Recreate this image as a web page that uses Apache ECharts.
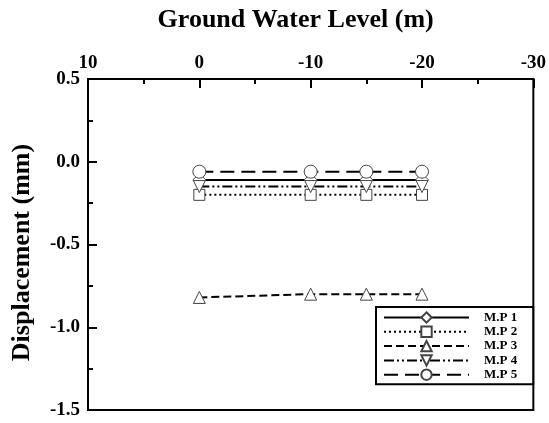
<!DOCTYPE html>
<html>
<head>
<meta charset="utf-8">
<script src="https://cdn.jsdelivr.net/npm/echarts@6/dist/echarts.min.js"></script>
<style>html,body{margin:0;padding:0;background:#fff}#c{width:549px;height:423px}</style>
</head>
<body>
<div id="c"></div>
<script>
const groundWaterLevel = [0, -10, -15, -20];
const mp1 = [-0.11, -0.11, -0.11, -0.11];
const mp2 = [-0.20, -0.20, -0.20, -0.20];
const mp3 = [-0.82, -0.80, -0.80, -0.80];
const mp4 = [-0.15, -0.15, -0.15, -0.15];
const mp5 = [-0.06, -0.06, -0.06, -0.06];
const seriesNames = ['M.P 1', 'M.P 2', 'M.P 3', 'M.P 4', 'M.P 5'];
const xTicks = [10, 0, -10, -20, -30];
const yTicks = [0.5, 0.0, -0.5, -1.0, -1.5];

const font = 'Liberation Serif';
const downTri = 'path://M0,0 L10,0 L5,10 Z';
const cfg = [
  {data: mp1, symbol: 'diamond', size: 13, dash: 'solid'},
  {data: mp2, symbol: 'rect', size: 11, dash: [2, 3]},
  {data: mp3, symbol: 'triangle', size: 12, dash: [8, 4]},
  {data: mp4, symbol: downTri, size: 12, dash: [10, 3, 2, 3, 2, 3]},
  {data: mp5, symbol: 'circle', size: 13, dash: [14, 7]}
];

const chart = echarts.init(document.getElementById('c'));
chart.setOption({
  animation: false,
  grid: {left: 88, right: 14, top: 79, bottom: 13, show: true, borderColor: '#000', borderWidth: 2, backgroundColor: 'transparent'},
  xAxis: {
    type: 'value', position: 'top', inverse: true, min: -30, max: 10, interval: 10,
    name: 'Ground Water Level (m)', nameLocation: 'middle', nameGap: 46,
    nameTextStyle: {fontFamily: font, fontWeight: 'bold', fontSize: 26, color: '#000', padding: [0, 30, 0, 0]},
    axisLine: {show: true, onZero: false, lineStyle: {color: '#000', width: 2}},
    axisTick: {show: true, inside: true, length: 9, lineStyle: {color: '#000', width: 2}},
    minorTick: {show: true, splitNumber: 2, length: 5, lineStyle: {color: '#000', width: 2}},
    splitLine: {show: false},
    axisLabel: {fontFamily: font, fontWeight: 'bold', fontSize: 19, color: '#000', margin: 6,
      formatter: v => xTicks.includes(v) ? String(v) : ''}
  },
  yAxis: {
    type: 'value', min: -1.5, max: 0.5, interval: 0.5,
    name: 'Displacement (mm)', nameLocation: 'middle', nameGap: 53,
    nameTextStyle: {fontFamily: font, fontWeight: 'bold', fontSize: 26, color: '#000', padding: [0, 16, 0, 0]},
    axisLine: {show: true, onZero: false, lineStyle: {color: '#000', width: 2}},
    axisTick: {show: true, inside: true, length: 9, lineStyle: {color: '#000', width: 2}},
    minorTick: {show: true, splitNumber: 2, length: 5, lineStyle: {color: '#000', width: 2}},
    splitLine: {show: false},
    axisLabel: {fontFamily: font, fontWeight: 'bold', fontSize: 19, color: '#000', margin: 8,
      formatter: v => yTicks.some(t => Math.abs(t - v) < 1e-9) ? v.toFixed(1) : ''}
  },
  legend: {
    orient: 'vertical', left: 376, top: 307,
    padding: [4, 16, 3, 7], itemGap: 1.3, itemWidth: 85, itemHeight: 13,
    borderColor: '#000', borderWidth: 2, backgroundColor: '#fff',
    textStyle: {fontFamily: font, fontWeight: 'bold', fontSize: 13, color: '#000', padding: [0, 0, 0, 10]},
    data: seriesNames
  },
  series: cfg.map((c, i) => ({
    name: seriesNames[i], type: 'line',
    data: groundWaterLevel.map((x, j) => [x, c.data[j]]),
    symbol: c.symbol, symbolSize: c.size, showAllSymbol: true,
    lineStyle: {color: '#000', width: 2, type: c.dash},
    itemStyle: {color: '#fff', borderColor: '#444', borderWidth: 1},
    z: 2 + i
  }))
});
</script>
</body>
</html>
